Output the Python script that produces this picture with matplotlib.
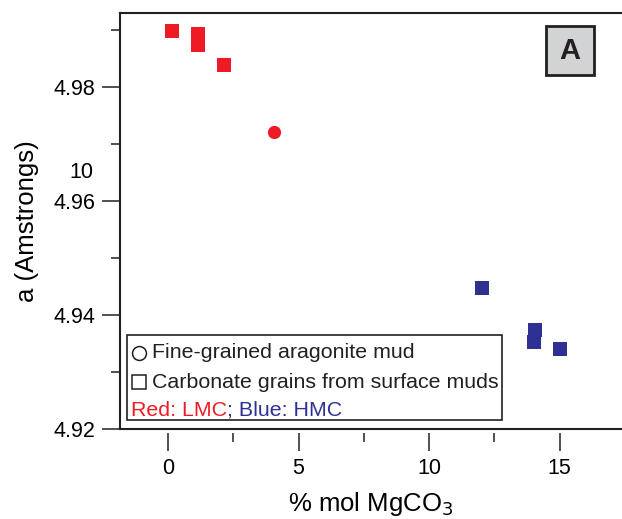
import matplotlib
matplotlib.use('Agg')
import matplotlib.pyplot as plt
from matplotlib.patches import Rectangle

plt.rcParams['font.family'] = ['Liberation Sans', 'DejaVu Sans']

# data
lmc_x = [0.14, 1.14, 1.14, 2.13]
lmc_y = [4.9898, 4.9893, 4.9873, 4.9838]
mud_x = [4.06]
mud_y = [4.9721]
hmc_x = [12.02, 14.06, 14.01, 15.0]
hmc_y = [4.9447, 4.9374, 4.9352, 4.9340]

red = '#ED1C24'
blue = '#2E3192'
dark = '#231F20'

W, H = 622, 519
fig = plt.figure(figsize=(W / 100, H / 100), dpi=100)
ax = fig.add_axes([120 / W, (H - 429) / H, 1 - 120 / W, (429 - 13) / H])

ax.plot(lmc_x, lmc_y, 's', color=red, ms=10.5, mew=0)
ax.plot(mud_x, mud_y, 'o', color=red, ms=9.5, mew=0)
ax.plot(hmc_x, hmc_y, 's', color=blue, ms=10.5, mew=0)

ax.set_xlim(-1.84, 17.39)
ax.set_ylim(4.92, 4.993)
ax.set_xticks([0, 5, 10, 15])
ax.set_xticks([2.5, 7.5, 12.5], minor=True)
ax.set_yticks([4.92, 4.94, 4.96, 4.98])
ax.set_yticks([4.93, 4.95, 4.97, 4.99], minor=True)
ax.set_yticklabels(['4.92', '4.94', '4.96', '4.98'])

ax.spines['right'].set_visible(False)
for s in ['left', 'top']:
    ax.spines[s].set_linewidth(1.5)
    ax.spines[s].set_color(dark)
# x ticks hang a little below the frame
ax.spines['bottom'].set_position(('outward', 3))
ax.spines['bottom'].set_visible(False)
ax.axhline(4.92, color=dark, lw=1.5, clip_on=False)

ax.tick_params(axis='both', which='major', length=13, width=1.1, color=dark,
               labelsize=15.5, pad=5)
ax.tick_params(axis='both', which='minor', length=6.5, width=1.1, color=dark)

ax.set_xlabel('% mol MgCO$_3$', fontsize=18.5, labelpad=8)
ax.set_ylabel('a (Amstrongs)', fontsize=18.5, labelpad=10)

# stray label on the y axis
fig.text(93 / W, 1 - 173 / H, '10', ha='right', va='center', fontsize=15.5)

# legend box drawn by hand
def fx(px):
    return px / W

def fy(py):
    return 1 - py / H

fig.patches.append(Rectangle((fx(127), fy(420)), fx(502) - fx(127), fy(335) - fy(420),
                             transform=fig.transFigure, fill=True, fc='white',
                             ec=dark, lw=1.2, zorder=5))
fig.add_artist(plt.Line2D([fx(139)], [fy(353)], marker='o', ms=10, mfc='white',
                          mec=dark, mew=1.1, transform=fig.transFigure, zorder=6))
fig.add_artist(plt.Line2D([fx(139)], [fy(382)], marker='s', ms=10, mfc='white',
                          mec=dark, mew=1.1, transform=fig.transFigure, zorder=6))
fig.text(fx(152), fy(353), 'Fine-grained aragonite mud', fontsize=15.4,
         va='center', color=dark, zorder=6)
fig.text(fx(152), fy(382), 'Carbonate grains from surface muds', fontsize=15.4,
         va='center', color=dark, zorder=6)
t1 = fig.text(fx(131), fy(410), 'Red: LMC', fontsize=15.4, va='center',
              color=red, zorder=6)
fig.canvas.draw()
bb = t1.get_window_extent(renderer=fig.canvas.get_renderer())
fig.text(bb.x1 / W, fy(410), '; Blue: HMC', fontsize=15.4, va='center',
         color=blue, zorder=6)

# panel letter
fig.patches.append(Rectangle((fx(546), fy(75)), fx(594) - fx(546), fy(26) - fy(75),
                             transform=fig.transFigure, fc='#D1D3D4', ec=dark,
                             lw=2, zorder=5))
fig.text(fx(570), fy(51), 'A', fontsize=21, fontweight='bold', ha='center',
         va='center', color=dark, zorder=6)

fig.savefig('out.png', dpi=100)
